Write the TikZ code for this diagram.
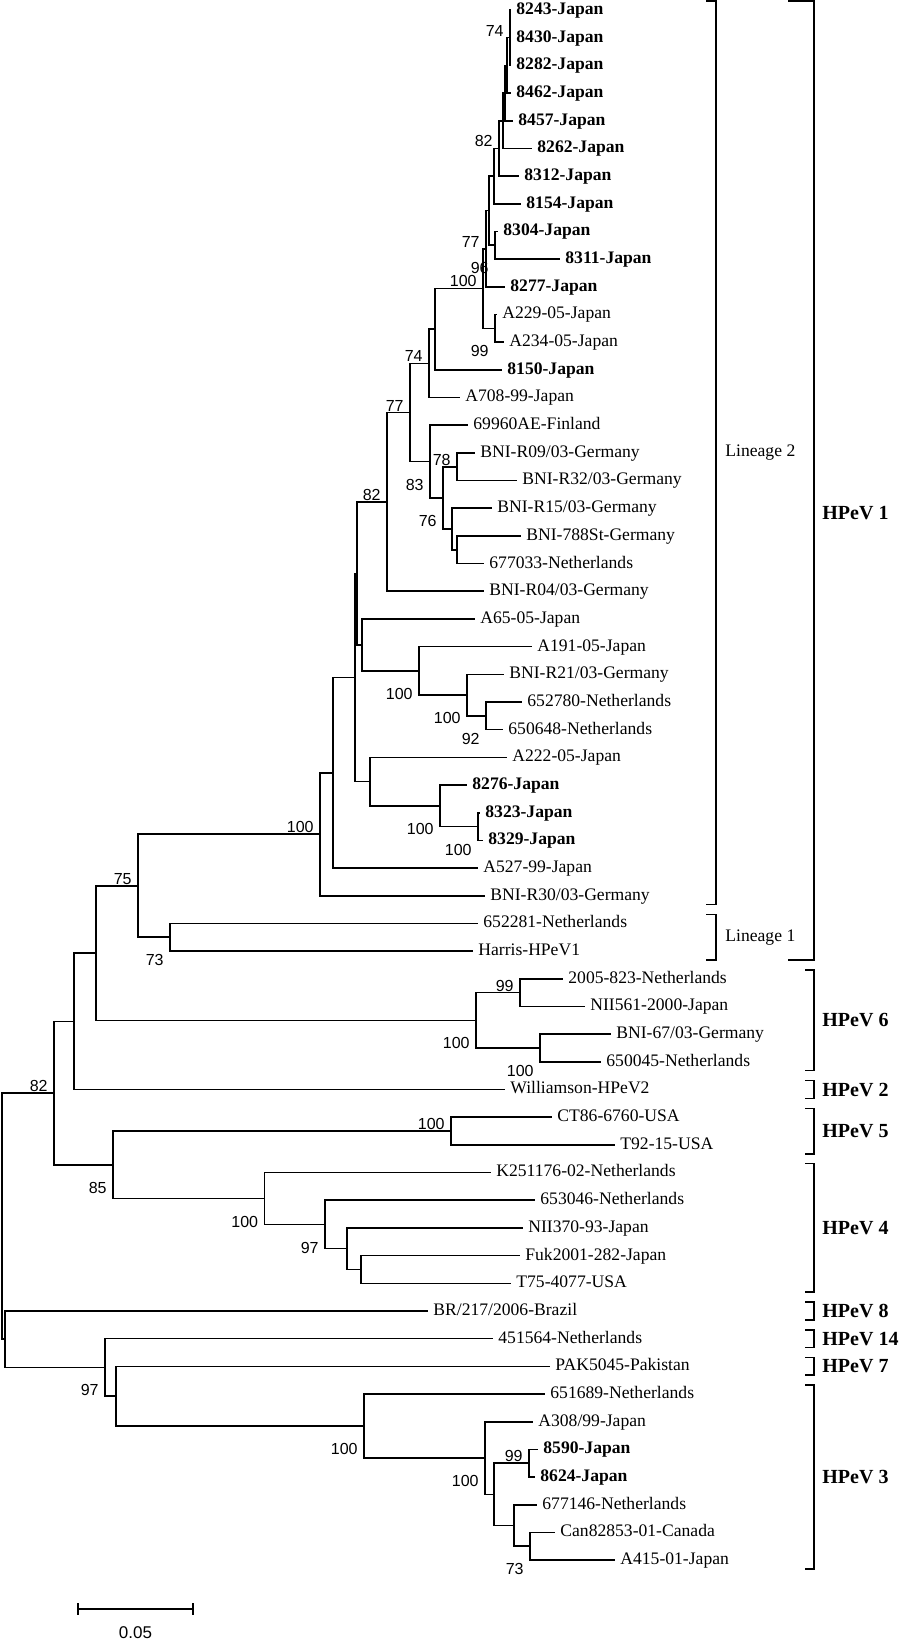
\documentclass[tikz,border=0pt]{standalone}
\usepackage{fontspec}
\setmainfont{Liberation Serif}
\newfontfamily\bootfont{Liberation Sans}
\usepackage{tikz}

\begin{document}
\begin{tikzpicture}[x=0.5pt,y=-13.84pt]
  \tikzset{branch/.style = {line width=0.8pt}}
  \tikzset{leaf/.style = {anchor=west, inner xsep=2.5pt, inner ysep=0pt, text height=6pt, text depth=1.6pt, font=\fontsize{8.8}{10}\selectfont}}
  \tikzset{bleaf/.style = {leaf, font=\fontsize{8.8}{10}\selectfont\bfseries}}
  \tikzset{boot/.style = {inner sep=0pt, font=\bootfont\fontsize{8}{9}\selectfont}}
  \tikzset{bup/.style = {boot, anchor=south east, xshift=-3pt, yshift=0.5pt}}
  \tikzset{bdown/.style = {boot, anchor=north east, xshift=-3pt, yshift=-8.5pt}}
  \tikzset{bracket/.style = {line width=0.75pt}}
  \tikzset{clade/.style = {anchor=west, inner sep=0pt, font=\fontsize{10}{12}\selectfont\bfseries}}
  \tikzset{lineage/.style = {anchor=west, inner sep=0pt, font=\fontsize{8.8}{10}\selectfont}}

\useasboundingbox (0,0.6387) rectangle (900,59.887);

% leaves
\node[bleaf] (s8243) at (511,1) {8243-Japan};
\node[bleaf] (s8430) at (511,2) {8430-Japan};
\node[bleaf] (s8282) at (511,3) {8282-Japan};
\node[bleaf] (s8462) at (511,4) {8462-Japan};
\node[bleaf] (s8457) at (513,5) {8457-Japan};
\node[bleaf] (s8262) at (532,6) {8262-Japan};
\node[bleaf] (s8312) at (519,7) {8312-Japan};
\node[bleaf] (s8154) at (521,8) {8154-Japan};
\node[bleaf] (s8304) at (498,9) {8304-Japan};
\node[bleaf] (s8311) at (560,10) {8311-Japan};
\node[bleaf] (s8277) at (505,11) {8277-Japan};
\node[leaf] (a229) at (497,12) {A229-05-Japan};
\node[leaf] (a234) at (504,13) {A234-05-Japan};
\node[bleaf] (s8150) at (502,14) {8150-Japan};
\node[leaf] (a708) at (460,15) {A708-99-Japan};
\node[leaf] (fin) at (468,16) {69960AE-Finland};
\node[leaf] (r09) at (475,17) {BNI-R09/03-Germany};
\node[leaf] (r32) at (517,18) {BNI-R32/03-Germany};
\node[leaf] (r15) at (492,19) {BNI-R15/03-Germany};
\node[leaf] (st788) at (521,20) {BNI-788St-Germany};
\node[leaf] (nl677033) at (484,21) {677033-Netherlands};
\node[leaf] (r04) at (484,22) {BNI-R04/03-Germany};
\node[leaf] (a65) at (475,23) {A65-05-Japan};
\node[leaf] (a191) at (532,24) {A191-05-Japan};
\node[leaf] (r21) at (504,25) {BNI-R21/03-Germany};
\node[leaf] (nl652780) at (522,26) {652780-Netherlands};
\node[leaf] (nl650648) at (503,27) {650648-Netherlands};
\node[leaf] (a222) at (507,28) {A222-05-Japan};
\node[bleaf] (s8276) at (467,29) {8276-Japan};
\node[bleaf] (s8323) at (480,30) {8323-Japan};
\node[bleaf] (s8329) at (483,31) {8329-Japan};
\node[leaf] (a527) at (478,32) {A527-99-Japan};
\node[leaf] (r30) at (485,33) {BNI-R30/03-Germany};
\node[leaf] (nl652281) at (478,34) {652281-Netherlands};
\node[leaf] (harris) at (473,35) {Harris-HPeV1};
\node[leaf] (nl2005) at (563,36) {2005-823-Netherlands};
\node[leaf] (nii561) at (585,37) {NII561-2000-Japan};
\node[leaf] (bni67) at (611,38) {BNI-67/03-Germany};
\node[leaf] (nl650045) at (601,39) {650045-Netherlands};
\node[leaf] (will) at (505,40) {Williamson-HPeV2};
\node[leaf] (ct86) at (552,41) {CT86-6760-USA};
\node[leaf] (t92) at (615,42) {T92-15-USA};
\node[leaf] (k251) at (491,43) {K251176-02-Netherlands};
\node[leaf] (nl653046) at (535,44) {653046-Netherlands};
\node[leaf] (nii370) at (523,45) {NII370-93-Japan};
\node[leaf] (fuk) at (520,46) {Fuk2001-282-Japan};
\node[leaf] (t75) at (511,47) {T75-4077-USA};
\node[leaf] (br217) at (428,48) {BR/217/2006-Brazil};
\node[leaf] (nl451564) at (493,49) {451564-Netherlands};
\node[leaf] (pak) at (550,50) {PAK5045-Pakistan};
\node[leaf] (nl651689) at (545,51) {651689-Netherlands};
\node[leaf] (a308) at (533,52) {A308/99-Japan};
\node[bleaf] (s8590) at (538,53) {8590-Japan};
\node[bleaf] (s8624) at (535,54) {8624-Japan};
\node[leaf] (nl677146) at (537,55) {677146-Netherlands};
\node[leaf] (can) at (555,56) {Can82853-01-Canada};
\node[leaf] (a415) at (615,57) {A415-01-Japan};

% internal nodes
\coordinate (c1) at (510,2);
\coordinate (c2) at (507,3);
\coordinate (c3) at (505,4);
\coordinate (c4) at (503,5);
\coordinate (c5) at (499,6);
\coordinate (c6) at (494,7);
\coordinate (c7) at (495,9.5);
\coordinate (c8) at (489,8.25);
\coordinate (c9) at (486,9.625);
\coordinate (c10) at (495,12.5);
\coordinate (c11) at (483,11.0625);
\coordinate (c12) at (435,12.531);
\coordinate (c13) at (429,13.766);
\coordinate (c14) at (457,17.5);
\coordinate (c15) at (457,20.5);
\coordinate (c16) at (452,19.75);
\coordinate (c17) at (443,18.625);
\coordinate (c18) at (430,17.3125);
\coordinate (c19) at (410,15.539);
\coordinate (c20) at (387,18.770);
\coordinate (c21) at (486,26.5);
\coordinate (c22) at (467,25.75);
\coordinate (c23) at (419,24.875);
\coordinate (c24) at (362,23.9375);
\coordinate (c25) at (357,21.354);
\coordinate (c26) at (478,30.5);
\coordinate (c27) at (440,29.75);
\coordinate (c28) at (370,28.875);
\coordinate (c29) at (355,25.114);
\coordinate (c30) at (333,28.557);
\coordinate (c31) at (320,30.779);
\coordinate (c32) at (170,34.5);
\coordinate (c33) at (138,32.639);
\coordinate (c34) at (520,36.5);
\coordinate (c35) at (540,38.5);
\coordinate (c36) at (476,37.5);
\coordinate (c37) at (96,35.070);
\coordinate (c38) at (74,37.535);
\coordinate (c39) at (451,41.5);
\coordinate (c40) at (361,46.5);
\coordinate (c41) at (347,45.75);
\coordinate (c42) at (325,44.875);
\coordinate (c43) at (264.5,43.9375);
\coordinate (c44) at (113,42.719);
\coordinate (c45) at (54,40.127);
\coordinate (c46) at (529,53.5);
\coordinate (c47) at (530,56.5);
\coordinate (c48) at (514,55.75);
\coordinate (c49) at (494,54.625);
\coordinate (c50) at (485,53.3125);
\coordinate (c51) at (364,52.156);
\coordinate (c52) at (116,51.078);
\coordinate (c53) at (105,50.039);
\coordinate (c54) at (5,49.020);
\coordinate (root) at (2,44.573);

% branches
\foreach \p/\c in {c1/s8243, c1/s8430, c1/s8282, c2/c1, c2/s8462, c3/c2, c3/s8457,
    c4/c3, c4/s8262, c5/c4, c5/s8312, c6/c5, c6/s8154, c7/s8304, c7/s8311,
    c8/c6, c8/c7, c9/c8, c9/s8277, c10/a229, c10/a234, c11/c9, c11/c10,
    c12/c11, c12/s8150, c13/c12, c13/a708, c14/r09, c14/r32, c15/st788,
    c15/nl677033, c16/r15, c16/c15, c17/c14, c17/c16, c18/fin, c18/c17,
    c19/c13, c19/c18, c20/c19, c20/r04, c21/nl652780, c21/nl650648,
    c22/r21, c22/c21, c23/a191, c23/c22, c24/a65, c24/c23, c25/c20, c25/c24,
    c26/s8323, c26/s8329, c27/s8276, c27/c26, c28/a222, c28/c27, c29/c25,
    c29/c28, c30/c29, c30/a527, c31/c30, c31/r30, c32/nl652281, c32/harris,
    c33/c31, c33/c32, c34/nl2005, c34/nii561, c35/bni67, c35/nl650045,
    c36/c34, c36/c35, c37/c33, c37/c36, c38/c37, c38/will, c39/ct86, c39/t92,
    c40/fuk, c40/t75, c41/nii370, c41/c40, c42/nl653046, c42/c41, c43/k251,
    c43/c42, c44/c39, c44/c43, c45/c38, c45/c44, c46/s8590, c46/s8624,
    c47/can, c47/a415, c48/nl677146, c48/c47, c49/c46, c49/c48, c50/a308,
    c50/c49, c51/nl651689, c51/c50, c52/pak, c52/c51, c53/nl451564, c53/c52,
    c54/br217, c54/c53, root/c45, root/c54}
  \draw[branch] (\p) |- (\c);

% bootstrap values
\foreach \n/\s/\v in {c1/bup/74, c5/bup/82, c7/bdown/96, c9/bup/77, c11/bup/100,
    c10/bdown/99, c13/bup/74, c19/bup/77, c18/bdown/83, c14/bup/78, c17/bdown/76,
    c20/bup/82, c23/bdown/100, c22/bdown/100, c21/bdown/92, c27/bdown/100,
    c26/bdown/100, c31/bup/100, c33/bup/75, c32/bdown/73, c34/bup/99,
    c36/bdown/100, c35/bdown/100, c45/bup/82, c39/bup/100, c44/bdown/85,
    c43/bdown/100, c42/bdown/97, c53/bdown/97, c51/bdown/100, c46/bup/99,
    c50/bdown/100, c47/bdown/73}
  \node[\s] (b\n) at (\n) {\v};

% clade brackets
\draw[bracket] (706,0.68) -| (716,33.32) -- (706,33.32);
\draw[bracket] (706,33.68) -| (716,35.32) -- (706,35.32);
\node[lineage] (lin2) at (725,17) {Lineage 2};
\node[lineage] (lin1) at (725,34.5) {Lineage 1};
\draw[bracket] (788,0.68) -| (814,35.32) -- (788,35.32);
\node[clade] (hpev1) at (822,19.17) {HPeV 1};
\foreach \t/\b/\ly/\lab in {35.68/39.32/37.5/6, 39.68/40.32/40/2, 40.68/42.32/41.5/5,
    42.68/47.32/45/4, 47.68/48.32/48/8, 48.68/49.32/49/14, 49.68/50.32/50/7,
    50.68/57.32/54/3}
{
  \draw[bracket] (805,\t) -| (814,\b) -- (805,\b);
  \node[clade] (hpev\lab) at (822,\ly) {HPeV \lab};
}

% scale bar
\coordinate (sbl) at (78,58.77);
\coordinate (sbr) at (193,58.77);
\draw[branch] (sbl) -- (sbr);
\draw[branch] ([yshift=3pt]sbl) -- ([yshift=-3pt]sbl);
\draw[branch] ([yshift=3pt]sbr) -- ([yshift=-3pt]sbr);
\node[boot, font=\bootfont\fontsize{8.5}{10}\selectfont] (sblab) at (135.5,59.63) {0.05};

\end{tikzpicture}
\end{document}
